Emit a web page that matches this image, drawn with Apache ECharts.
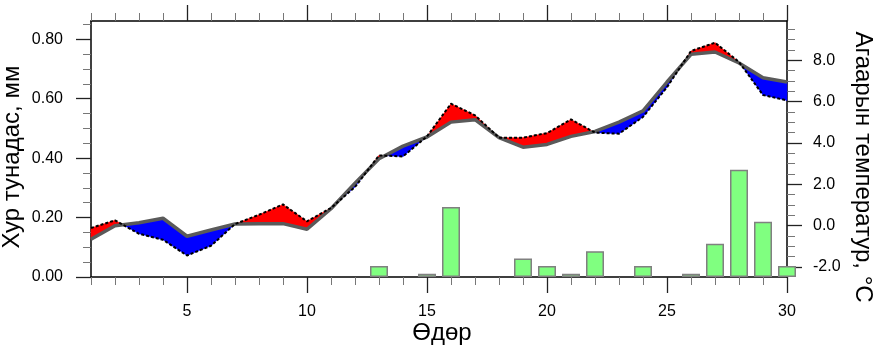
<!DOCTYPE html>
<html>
<head>
<meta charset="utf-8">
<script src="https://cdn.jsdelivr.net/npm/echarts@6/dist/echarts.min.js"></script>
<style>
  html, body { margin: 0; padding: 0; background: #fff; }
  #chart { width: 877px; height: 353px; }
</style>
</head>
<body>
<div id="chart"></div>
<script>
// өдөр
const days = [1, 2, 3, 4, 5, 6, 7, 8, 9, 10, 11, 12, 13, 14, 15,
  16, 17, 18, 19, 20, 21, 22, 23, 24, 25, 26, 27, 28, 29, 30]
// хур тунадас, мм
const precip = [0, 0, 0, 0, 0, 0, 0, 0, 0, 0, 0, 0, 0.037, 0, 0.011,
  0.236, 0, 0, 0.062, 0.037, 0.011, 0.087, 0, 0.037, 0, 0.011, 0.112, 0.361, 0.186, 0.037]
// өдрийн дундаж температур
const dailyT = [-0.11, 0.26, -0.39, -0.68, -1.44, -0.97, 0.08, 0.53, 1.03, 0.21, 0.86, 1.87, 3.4, 3.35, 4.32,
  5.9, 5.34, 4.26, 4.26, 4.48, 5.14, 4.5, 4.45, 5.26, 6.7, 8.45, 8.85, 7.92, 6.32, 6.06]
// олон жилийн дундаж
const normalT = [-0.65, 0.0, 0.14, 0.36, -0.51, -0.21, 0.08, 0.1, 0.1, -0.17, 0.82, 2.06, 3.24, 3.85, 4.29,
  5.01, 5.13, 4.26, 3.8, 3.93, 4.32, 4.56, 5.01, 5.55, 6.95, 8.29, 8.4, 7.87, 7.16, 6.95]

// тэнхлэгийн хуваарь
const xMajor = [5, 10, 15, 20, 25, 30]
const xMinor = days.filter((d) => d % 5 !== 0)
const precipMajor = [0, 0.2, 0.4, 0.6, 0.8]
const precipMinor = [0.05, 0.1, 0.15, 0.25, 0.3, 0.35, 0.45, 0.5, 0.55, 0.65, 0.7, 0.75, 0.85]
const tempMajor = [-2, 0, 2, 4, 6, 8]
const tempMinor = [-1.5, -1, -0.5, 0.5, 1, 1.5, 2.5, 3, 3.5, 4.5, 5, 5.5, 6.5, 7, 7.5, 8.5, 9, 9.5]

const FONT = 'Liberation Sans, Arial, sans-serif'
const RED = '#ff0000'
const BLUE = '#0000ff'

const chart = echarts.init(document.getElementById('chart'))

function xAxisDef(position, ticks, major) {
  return {
    type: 'value',
    position: position,
    min: 1,
    max: 30,
    axisLine: { show: major, onZero: false, lineStyle: { color: '#000', width: 1.5 } },
    axisTick: {
      show: true,
      customValues: ticks,
      length: major ? 16 : 8,
      lineStyle: { color: major ? '#222' : '#777', width: major ? 1.3 : 1 },
    },
    axisLabel: {
      show: major && position === 'bottom',
      customValues: ticks,
      margin: 27,
      fontSize: 16,
      color: '#000',
      fontFamily: FONT,
    },
    splitLine: { show: false },
  }
}

function yAxisDef(position, min, max, ticks, major, digits, margin) {
  return {
    type: 'value',
    position: position,
    min: min,
    max: max,
    axisLine: { show: major, onZero: false, lineStyle: { color: '#000', width: 1.5 } },
    axisTick: {
      show: true,
      customValues: ticks,
      length: major ? 15 : 8,
      lineStyle: { color: major ? '#222' : '#777', width: major ? 1.3 : 1 },
    },
    axisLabel: {
      show: major,
      customValues: ticks,
      margin: margin,
      fontSize: 16,
      color: '#000',
      fontFamily: FONT,
      formatter: (v) => v.toFixed(digits),
    },
    splitLine: { show: false },
  }
}

const barData = days.map((d, i) => [d, precip[i]]).filter((p) => p[1] > 0)
const segData = days.slice(0, -1).map((d, i) => [d, dailyT[i]])

const option = {
  animation: false,
  backgroundColor: '#fff',
  grid: { left: 91, right: 90, top: 21, bottom: 76, containLabel: false },
  xAxis: [
    xAxisDef('bottom', xMajor, true),
    xAxisDef('bottom', xMinor, false),
    xAxisDef('top', xMajor, true),
    xAxisDef('top', xMinor, false),
  ],
  yAxis: [
    yAxisDef('left', 0, 0.8616, precipMajor, true, 2, 28),
    yAxisDef('right', -2.48, 9.9, tempMajor, true, 1, 26),
    yAxisDef('left', 0, 0.8616, precipMinor, false, 2, 28),
    yAxisDef('right', -2.48, 9.9, tempMinor, false, 1, 26),
  ],
  series: [
    {
      name: 'precip',
      type: 'bar',
      xAxisIndex: 0,
      yAxisIndex: 0,
      data: barData,
      barWidth: 18,
      clip: true,
      itemStyle: { color: '#80ff80', borderColor: '#808080', borderWidth: 1.5 },
      z: 1,
    },
    {
      name: 'anomaly',
      type: 'custom',
      xAxisIndex: 0,
      yAxisIndex: 1,
      data: segData,
      z: 2,
      renderItem: function (params, api) {
        const i = params.dataIndex
        const x0 = days[i]
        const x1 = days[i + 1]
        const d0 = dailyT[i] - normalT[i]
        const d1 = dailyT[i + 1] - normalT[i + 1]
        const polys = []
        if (d0 * d1 >= 0) {
          polys.push({
            pts: [api.coord([x0, dailyT[i]]), api.coord([x1, dailyT[i + 1]]),
              api.coord([x1, normalT[i + 1]]), api.coord([x0, normalT[i]])],
            color: d0 + d1 >= 0 ? RED : BLUE,
          })
        } else {
          // линиуд огтлолцох цэг
          const t = d0 / (d0 - d1)
          const xc = x0 + t * (x1 - x0)
          const yc = normalT[i] + t * (normalT[i + 1] - normalT[i])
          polys.push({
            pts: [api.coord([x0, dailyT[i]]), api.coord([xc, yc]), api.coord([x0, normalT[i]])],
            color: d0 > 0 ? RED : BLUE,
          })
          polys.push({
            pts: [api.coord([xc, yc]), api.coord([x1, dailyT[i + 1]]), api.coord([x1, normalT[i + 1]])],
            color: d1 > 0 ? RED : BLUE,
          })
        }
        return {
          type: 'group',
          children: polys.map((p) => ({
            type: 'polygon',
            shape: { points: p.pts },
            style: { fill: p.color, stroke: p.color, lineWidth: 0.5 },
          })),
        }
      },
    },
    {
      name: 'normal',
      type: 'line',
      xAxisIndex: 0,
      yAxisIndex: 1,
      data: days.map((d, i) => [d, normalT[i]]),
      symbol: 'none',
      lineStyle: { color: '#5a5a5a', width: 3.5 },
      z: 3,
    },
    {
      name: 'daily',
      type: 'line',
      xAxisIndex: 0,
      yAxisIndex: 1,
      data: days.map((d, i) => [d, dailyT[i]]),
      symbol: 'none',
      lineStyle: { color: '#000', width: 2, type: [3, 2] },
      z: 4,
    },
  ],
  graphic: [
    {
      type: 'text',
      x: 12,
      y: 157,
      rotation: Math.PI / 2,
      style: { text: 'Хур тунадас, мм', fontSize: 24, fontFamily: FONT, fill: '#000', align: 'center', verticalAlign: 'middle' },
    },
    {
      type: 'text',
      x: 863,
      y: 167,
      rotation: -Math.PI / 2,
      style: { text: 'Агаарын температур, °C', fontSize: 24, fontFamily: FONT, fill: '#000', align: 'center', verticalAlign: 'middle' },
    },
    {
      type: 'text',
      x: 442,
      y: 333,
      style: { text: 'Өдөр', fontSize: 24, fontFamily: FONT, fill: '#000', align: 'center', verticalAlign: 'middle' },
    },
  ],
}

chart.setOption(option)
</script>
</body>
</html>
